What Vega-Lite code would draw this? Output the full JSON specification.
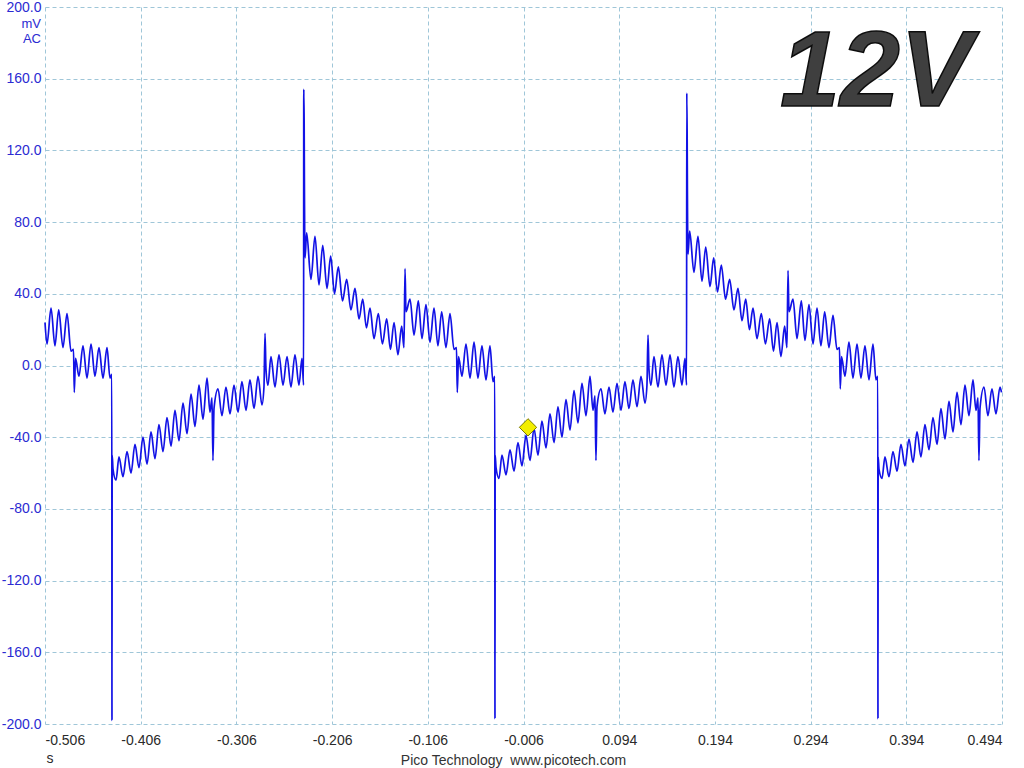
{
  "$schema": "https://vega.github.io/schema/vega-lite/v6.json",
  "width": 957,
  "height": 717,
  "autosize": {"type": "none"},
  "padding": {"left": 45, "top": 7, "right": 22, "bottom": 44},
  "background": "white",
  "config": {
    "view": {"stroke": null},
    "locale": {"number": {"decimal": ".", "thousands": ",", "grouping": [3], "currency": ["$", ""], "minus": "-"}},
    "axis": {"domain": false, "ticks": false, "grid": true, "gridColor": "#9fc6d8", "gridDash": [4, 3], "gridWidth": 1, "gridOpacity": 1, "labelFont": "Liberation Sans", "labelFontSize": 14, "titleFont": "Liberation Sans"}
  },
  "layer": [
    {
      "data": {"values": [
        {"t":-0.506,"v":24},{"t":-0.5039,"v":12},{"t":-0.4997,"v":32},{"t":-0.4956,"v":11},{"t":-0.4917,"v":31},{"t":-0.4872,"v":10},{"t":-0.4830,"v":29},{"t":-0.4788,"v":8},{"t":-0.4762,"v":9},{"t":-0.4754,"v":-15},{"t":-0.4741,"v":4},{"t":-0.4705,"v":-6},{"t":-0.4663,"v":11},{"t":-0.4621,"v":-7},{"t":-0.4579,"v":12},{"t":-0.4538,"v":-6},{"t":-0.4496,"v":10},{"t":-0.4454,"v":-7},{"t":-0.4412,"v":10},{"t":-0.4381,"v":-7},{"t":-0.4362,"v":-5},
        {"t":-0.4360,"v":-198},{"t":-0.4358,"v":-50},{"t":-0.4349,"v":-58},{"t":-0.4318,"v":-64},{"t":-0.4287,"v":-51},{"t":-0.4245,"v":-62},{"t":-0.4203,"v":-48},{"t":-0.4161,"v":-60},{"t":-0.4120,"v":-44},{"t":-0.4078,"v":-57},{"t":-0.4036,"v":-40},{"t":-0.3994,"v":-55},{"t":-0.3952,"v":-37},{"t":-0.3911,"v":-52},{"t":-0.3869,"v":-33},{"t":-0.3827,"v":-48},{"t":-0.3785,"v":-29},{"t":-0.3743,"v":-45},{"t":-0.3702,"v":-25},{"t":-0.3660,"v":-42},{"t":-0.3618,"v":-21},{"t":-0.3576,"v":-38},{"t":-0.3534,"v":-16},{"t":-0.3493,"v":-34},{"t":-0.3451,"v":-11},{"t":-0.3409,"v":-30},{"t":-0.3367,"v":-7},{"t":-0.3336,"v":-26},{"t":-0.3315,"v":-18},{"t":-0.3305,"v":-53},{"t":-0.3294,"v":-24},{"t":-0.3252,"v":-13},{"t":-0.3211,"v":-28},{"t":-0.3169,"v":-12},{"t":-0.3127,"v":-27},{"t":-0.3085,"v":-11},{"t":-0.3043,"v":-26},{"t":-0.3002,"v":-9},{"t":-0.2960,"v":-25},{"t":-0.2918,"v":-8},{"t":-0.2876,"v":-24},{"t":-0.2834,"v":-6},{"t":-0.2793,"v":-22},{"t":-0.2772,"v":-12},{"t":-0.2761,"v":18},{"t":-0.2751,"v":-2},{"t":-0.2730,"v":-11},{"t":-0.2699,"v":5},{"t":-0.2657,"v":-12},{"t":-0.2615,"v":6},{"t":-0.2573,"v":-11},{"t":-0.2531,"v":5},{"t":-0.2490,"v":-12},{"t":-0.2448,"v":6},{"t":-0.2406,"v":-11},{"t":-0.2375,"v":4},{"t":-0.2358,"v":-11},{"t":-0.2356,"v":154},{"t":-0.2352,"v":136},{"t":-0.2349,"v":98},{"t":-0.2343,"v":60},{"t":-0.2326,"v":74},{"t":-0.2281,"v":48},{"t":-0.2239,"v":72},{"t":-0.2197,"v":45},{"t":-0.2158,"v":67},{"t":-0.2113,"v":43},{"t":-0.2075,"v":61},{"t":-0.2035,"v":40},{"t":-0.1995,"v":55},{"t":-0.1951,"v":36},{"t":-0.1908,"v":48},{"t":-0.1863,"v":31},{"t":-0.1821,"v":43},{"t":-0.1779,"v":26},{"t":-0.1740,"v":37},{"t":-0.1701,"v":21},{"t":-0.1664,"v":32},{"t":-0.1622,"v":15},{"t":-0.1577,"v":29},{"t":-0.1534,"v":12},{"t":-0.1490,"v":26},{"t":-0.1450,"v":9},{"t":-0.1413,"v":24},{"t":-0.1372,"v":6},{"t":-0.1333,"v":22},{"t":-0.1309,"v":10},{"t":-0.1298,"v":54},{"t":-0.1288,"v":30},{"t":-0.1246,"v":37},{"t":-0.1204,"v":17},{"t":-0.1159,"v":36},{"t":-0.1121,"v":15},{"t":-0.1079,"v":34},{"t":-0.1037,"v":13},{"t":-0.0995,"v":32},{"t":-0.0954,"v":11},{"t":-0.0915,"v":30},{"t":-0.0870,"v":10},{"t":-0.0828,"v":29},{"t":-0.0786,"v":9},{"t":-0.0760,"v":10},{"t":-0.0752,"v":-15},{"t":-0.0739,"v":5},{"t":-0.0703,"v":-6},{"t":-0.0661,"v":12},{"t":-0.0619,"v":-7},{"t":-0.0577,"v":13},{"t":-0.0536,"v":-7},{"t":-0.0494,"v":11},{"t":-0.0452,"v":-8},{"t":-0.0410,"v":11},{"t":-0.0379,"v":-9},{"t":-0.0360,"v":-6},
        {"t":-0.0358,"v":-197},{"t":-0.0356,"v":-50},{"t":-0.0347,"v":-57},{"t":-0.0316,"v":-63},{"t":-0.0285,"v":-50},{"t":-0.0243,"v":-61},{"t":-0.0201,"v":-47},{"t":-0.0159,"v":-59},{"t":-0.0118,"v":-43},{"t":-0.0076,"v":-56},{"t":-0.0034,"v":-39},{"t":0.0008,"v":-53},{"t":0.0050,"v":-35},{"t":0.0091,"v":-50},{"t":0.0133,"v":-31},{"t":0.0175,"v":-46},{"t":0.0217,"v":-27},{"t":0.0259,"v":-43},{"t":0.0300,"v":-23},{"t":0.0342,"v":-40},{"t":0.0384,"v":-19},{"t":0.0426,"v":-36},{"t":0.0468,"v":-14},{"t":0.0509,"v":-32},{"t":0.0551,"v":-10},{"t":0.0593,"v":-28},{"t":0.0635,"v":-6},{"t":0.0666,"v":-25},{"t":0.0687,"v":-17},{"t":0.0697,"v":-53},{"t":0.0708,"v":-23},{"t":0.0750,"v":-13},{"t":0.0791,"v":-27},{"t":0.0833,"v":-12},{"t":0.0875,"v":-26},{"t":0.0917,"v":-10},{"t":0.0959,"v":-25},{"t":0.1000,"v":-9},{"t":0.1042,"v":-24},{"t":0.1084,"v":-8},{"t":0.1126,"v":-23},{"t":0.1168,"v":-6},{"t":0.1209,"v":-21},{"t":0.1230,"v":-11},{"t":0.1241,"v":17},{"t":0.1251,"v":-2},{"t":0.1272,"v":-11},{"t":0.1303,"v":5},{"t":0.1345,"v":-12},{"t":0.1387,"v":6},{"t":0.1429,"v":-11},{"t":0.1471,"v":6},{"t":0.1512,"v":-12},{"t":0.1554,"v":5},{"t":0.1596,"v":-11},{"t":0.1627,"v":4},{"t":0.1644,"v":-11},{"t":0.1646,"v":152},{"t":0.1650,"v":130},{"t":0.1653,"v":95},{"t":0.1659,"v":62},{"t":0.1676,"v":75},{"t":0.1721,"v":52},{"t":0.1763,"v":72},{"t":0.1805,"v":47},{"t":0.1844,"v":66},{"t":0.1889,"v":44},{"t":0.1927,"v":60},{"t":0.1967,"v":41},{"t":0.2007,"v":56},{"t":0.2051,"v":37},{"t":0.2094,"v":48},{"t":0.2139,"v":31},{"t":0.2181,"v":43},{"t":0.2223,"v":25},{"t":0.2262,"v":37},{"t":0.2301,"v":20},{"t":0.2338,"v":32},{"t":0.2380,"v":15},{"t":0.2425,"v":29},{"t":0.2468,"v":12},{"t":0.2512,"v":26},{"t":0.2552,"v":8},{"t":0.2589,"v":24},{"t":0.2630,"v":5},{"t":0.2669,"v":22},{"t":0.2693,"v":10},{"t":0.2704,"v":53},{"t":0.2714,"v":30},{"t":0.2756,"v":37},{"t":0.2798,"v":15},{"t":0.2843,"v":36},{"t":0.2881,"v":14},{"t":0.2923,"v":34},{"t":0.2965,"v":12},{"t":0.3007,"v":32},{"t":0.3048,"v":11},{"t":0.3087,"v":30},{"t":0.3132,"v":10},{"t":0.3174,"v":28},{"t":0.3216,"v":9},{"t":0.3242,"v":10},{"t":0.3250,"v":-13},{"t":0.3263,"v":5},{"t":0.3299,"v":-6},{"t":0.3341,"v":13},{"t":0.3383,"v":-7},{"t":0.3425,"v":12},{"t":0.3466,"v":-7},{"t":0.3508,"v":11},{"t":0.3550,"v":-8},{"t":0.3592,"v":12},{"t":0.3623,"v":-8},{"t":0.3642,"v":-6},
        {"t":0.3644,"v":-197},{"t":0.3646,"v":-51},{"t":0.3655,"v":-58},{"t":0.3686,"v":-63},{"t":0.3717,"v":-51},{"t":0.3759,"v":-62},{"t":0.3801,"v":-48},{"t":0.3843,"v":-59},{"t":0.3884,"v":-44},{"t":0.3926,"v":-56},{"t":0.3968,"v":-41},{"t":0.4010,"v":-54},{"t":0.4052,"v":-37},{"t":0.4093,"v":-51},{"t":0.4135,"v":-33},{"t":0.4177,"v":-47},{"t":0.4219,"v":-29},{"t":0.4261,"v":-44},{"t":0.4302,"v":-24},{"t":0.4344,"v":-41},{"t":0.4386,"v":-20},{"t":0.4428,"v":-37},{"t":0.4470,"v":-15},{"t":0.4511,"v":-33},{"t":0.4553,"v":-11},{"t":0.4595,"v":-28},{"t":0.4637,"v":-8},{"t":0.4668,"v":-25},{"t":0.4689,"v":-18},{"t":0.4699,"v":-53},{"t":0.4710,"v":-24},{"t":0.4752,"v":-12},{"t":0.4793,"v":-28},{"t":0.4835,"v":-13},{"t":0.4877,"v":-27},{"t":0.4919,"v":-12},{"t":0.4935,"v":-15}
      ]},
      "mark": {"type": "line", "color": "#1212e6", "strokeWidth": 1.7, "interpolate": "monotone"},
      "encoding": {
        "x": {"field": "t", "type": "quantitative",
              "scale": {"domain": [-0.506, 0.494], "nice": false, "zero": false},
              "axis": {"values": [-0.506, -0.406, -0.306, -0.206, -0.106, -0.006, 0.094, 0.194, 0.294, 0.394, 0.494],
                       "format": ".3f", "labelColor": "#2a2a2a", "labelPadding": 9,
                       "title": "Pico Technology\u00a0\u00a0www.picotech.com", "titleFontSize": 14, "titleFontWeight": "normal", "titleColor": "#333333",
                       "titleX": 468, "titleY": 36, "titleBaseline": "middle", "titleAnchor": null}},
        "y": {"field": "v", "type": "quantitative",
              "scale": {"domain": [-200, 200], "nice": false, "zero": false},
              "axis": {"values": [-200, -160, -120, -80, -40, 0, 40, 80, 120, 160, 200],
                       "format": ".1f", "labelColor": "#2b2bd2", "labelPadding": 4, "title": null}}
      }
    },
    {
      "data": {"values": [{"t": -0.0013, "v": -34.5}]},
      "mark": {"type": "point", "shape": "diamond", "filled": true, "size": 300, "color": "#f2ee00", "stroke": "#7a7a00", "strokeWidth": 1, "opacity": 1},
      "encoding": {
        "x": {"field": "t", "type": "quantitative"},
        "y": {"field": "v", "type": "quantitative"}
      }
    },
    {
      "data": {"values": [{}]},
      "mark": {"type": "text", "text": "12V", "font": "Liberation Sans", "fontSize": 108, "fontWeight": "bold", "fontStyle": "italic", "align": "center", "baseline": "alphabetic", "color": "#3f3f3f", "stroke": "#0d0d0d", "strokeWidth": 1.5},
      "encoding": {"x": {"datum": 0.3623, "type": "quantitative"}, "y": {"datum": 144.8, "type": "quantitative"}}
    },
    {
      "data": {"values": [{}]},
      "mark": {"type": "text", "text": "mV", "font": "Liberation Sans", "fontSize": 13, "align": "right", "baseline": "middle", "color": "#2b2bd2", "dx": -4},
      "encoding": {"x": {"datum": -0.506, "type": "quantitative"}, "y": {"datum": 190.6, "type": "quantitative"}}
    },
    {
      "data": {"values": [{}]},
      "mark": {"type": "text", "text": "AC", "font": "Liberation Sans", "fontSize": 13, "align": "right", "baseline": "middle", "color": "#2b2bd2", "dx": -4},
      "encoding": {"x": {"datum": -0.506, "type": "quantitative"}, "y": {"datum": 182.3, "type": "quantitative"}}
    },
    {
      "data": {"values": [{}]},
      "mark": {"type": "text", "text": "s", "font": "Liberation Sans", "fontSize": 14, "align": "center", "baseline": "middle", "color": "#2a2a2a"},
      "encoding": {"x": {"datum": -0.5008, "type": "quantitative"}, "y": {"datum": -219.5, "type": "quantitative"}}
    }
  ]
}
